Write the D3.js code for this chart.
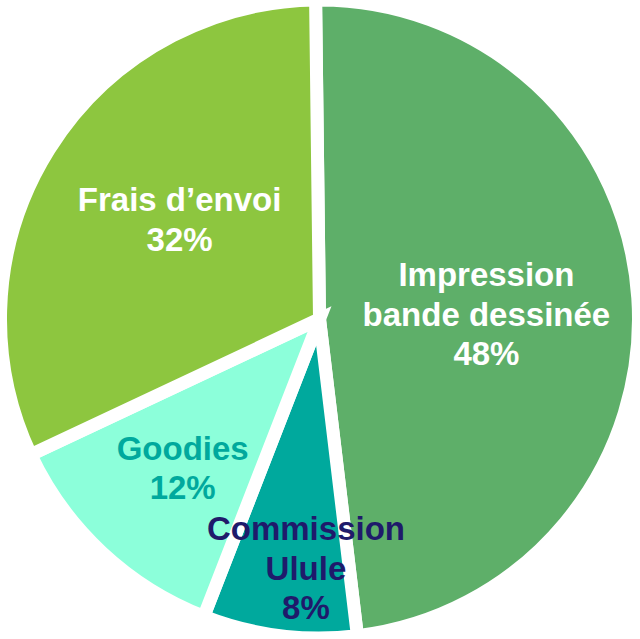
<!DOCTYPE html>
<html>
<head>
<meta charset="utf-8">
<script src="https://cdn.jsdelivr.net/npm/d3@7"></script>
<style>
  html, body { margin: 0; padding: 0; background: #fff; }
</style>
</head>
<body>
<div id="PieChart"></div>
<script>
// chart data
const categories = ['Impression bande dessinée', 'Commission Ulule', 'Goodies', "Frais d’envoi"];
const shares = [48.3, 7.8, 12.1, 31.8];
const labelLines = [['Impression', 'bande dessinée'], ['Commission', 'Ulule'], ['Goodies'], ['Frais d’envoi']];

const sliceColors = ['#5eaf69', '#00a99d', '#8cffda', '#8dc63f'];
const textColors = ['#ffffff', '#1f1a6b', '#00a99d', '#ffffff'];
// label placement: distance from centre and small angle nudge (degrees)
const labelPlace = [{ r: 167, da: 1.9 }, { r: 249, da: -4.1 }, { r: 202, da: -0.4 }, { r: 172, da: 3.5 }];

const width = 640;
const height = 639;
const cx = 319.5;
const cy = 319;
const radius = 319;
const toRad = Math.PI / 180;

const svg = d3.select('#PieChart')
  .append('svg')
  .attr('width', width)
  .attr('height', height);

const pie = d3.pie()
  .sort(null)
  .value(d => d)
  .startAngle(-0.7 * toRad)
  .endAngle((360 - 0.7) * toRad);

const arcs = pie(shares);
const total = d3.sum(shares);

const arc = d3.arc()
  .innerRadius(0)
  .outerRadius(radius);

const g = svg.append('g')
  .attr('transform', `translate(${cx},${cy})`);

// slices with thick white borders
g.selectAll('.slice')
  .data(arcs)
  .enter().append('path')
  .attr('class', 'slice')
  .attr('d', arc)
  .attr('fill', (d, i) => sliceColors[i])
  .attr('stroke', '#ffffff')
  .attr('stroke-width', 13)
  .attr('stroke-linejoin', 'miter');

// labels
const fontSize = 33;
const lineH = 39.6;
const capH = 24;

arcs.forEach((d, i) => {
  const mid = (d.startAngle + d.endAngle) / 2 + labelPlace[i].da * toRad;
  const x = Math.sin(mid) * labelPlace[i].r;
  const y = -Math.cos(mid) * labelPlace[i].r;
  const lines = labelLines[i].concat([`${Math.round(d.value / total * 100)}%`]);
  const blockH = capH + lineH * (lines.length - 1);
  const firstBase = y - blockH / 2 + capH;

  const t = g.append('text')
    .attr('text-anchor', 'middle')
    .style('font-family', '"Liberation Sans", Arial, sans-serif')
    .style('font-weight', 'bold')
    .style('font-size', fontSize + 'px')
    .attr('fill', textColors[i]);

  lines.forEach((line, j) => {
    t.append('tspan')
      .attr('x', x)
      .attr('y', firstBase + j * lineH)
      .text(line);
  });
});
</script>
</body>
</html>
